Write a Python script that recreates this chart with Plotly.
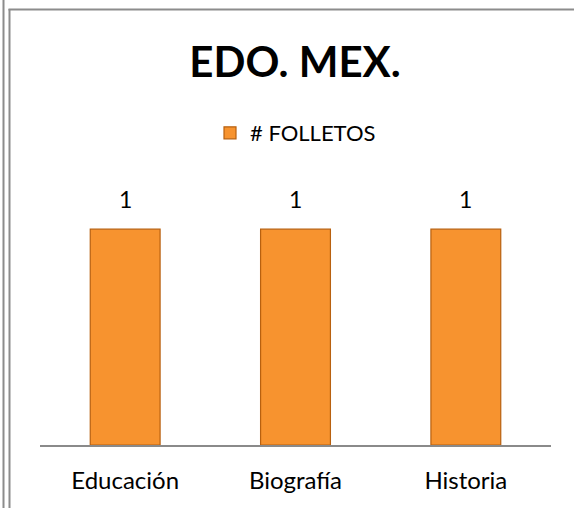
import plotly.graph_objects as go

categories = ["Educación", "Biografía", "Historia"]
folletos = [1, 1, 1]
series_name = "# FOLLETOS"
title_text = "EDO. MEX."

W, H = 574, 508
L, R, T, B = 40, 23, 186, 63
pw, ph = W - L - R, H - T - B

def px_x(x):
    return (x - L) / pw

def px_y(y):
    return (H - B - y) / ph

FONT = "Lato, 'Open Sans', sans-serif"

fig = go.Figure()
fig.add_trace(go.Bar(
    x=categories, y=folletos, name=series_name,
    marker=dict(color="#F7932F", line=dict(color="#B8600F", width=1.2)),
    width=0.41, showlegend=True,
))

for c, v in zip(categories, folletos):
    fig.add_annotation(x=c, y=v, text=str(v), showarrow=False,
                       yanchor="bottom", yshift=14,
                       font=dict(family=FONT, size=23, color="black"))

line_col = "#8C8C8C"
shapes = [
    dict(type="line", xref="paper", yref="paper", x0=px_x(3.5), x1=px_x(3.5), y0=px_y(0), y1=px_y(H), line=dict(color=line_col, width=2)),
    dict(type="line", xref="paper", yref="paper", x0=px_x(9.5), x1=px_x(9.5), y0=px_y(9), y1=px_y(H), line=dict(color=line_col, width=2)),
    dict(type="line", xref="paper", yref="paper", x0=px_x(8.5), x1=px_x(W), y0=px_y(9.5), y1=px_y(9.5), line=dict(color=line_col, width=2)),
]

fig.update_layout(
    width=W, height=H,
    margin=dict(l=L, r=R, t=T, b=B),
    paper_bgcolor="white", plot_bgcolor="white",
    title=dict(text="<b>" + title_text + "</b>", x=295 / W, xanchor="center",
               y=(H - 62) / H, yanchor="middle",
               font=dict(family=FONT, size=42, color="black")),
    legend=dict(orientation="h", x=0.5, xanchor="center", y=px_y(133), yanchor="middle",
                font=dict(family=FONT, size=22, color="black"), bgcolor="rgba(0,0,0,0)"),
    xaxis=dict(showline=True, linecolor="#8A8A8A", linewidth=1.5, showgrid=False, ticks="",
               tickfont=dict(family=FONT, size=24, color="black"), zeroline=False,
               ticklabelstandoff=13),
    yaxis=dict(range=[0, 1.2], visible=False, showgrid=False),
    shapes=shapes,
    bargap=0.59,
)

fig.write_html("out.html", config={"displayModeBar": False},
               post_script="document.body.style.margin='0';document.body.style.overflow='hidden';")
